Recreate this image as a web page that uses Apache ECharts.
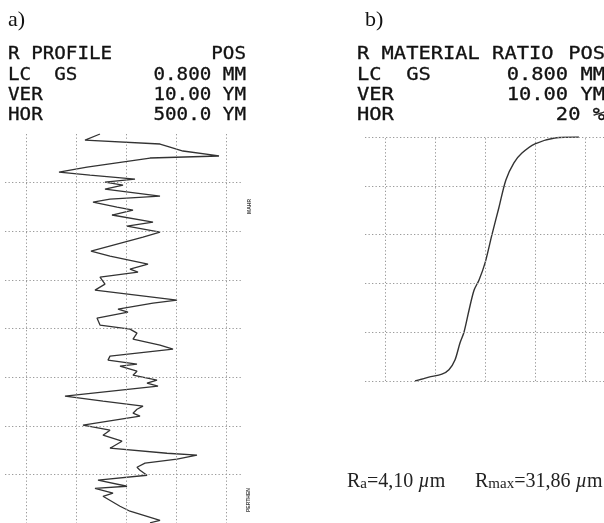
<!DOCTYPE html>
<html>
<head>
  <meta charset="utf-8">
</head>
<body style="margin: 0; background: #fff">
  <div id="container" style="width: 604px; height: 523px"></div>
  <script src="https://cdn.jsdelivr.net/npm/echarts@6.0.0/dist/echarts.min.js"></script>
  <script>
    // a) R profile: position along the trace (µm, downward) and profile height (µm)
    var profilePos = [0, 62, 103, 134, 175, 226, 247, 340, 391, 422, 463, 494, 525, 566, 638, 669, 700,
      751, 782, 833, 906, 947, 1008, 1060, 1204, 1255, 1338, 1389, 1420, 1471, 1544, 1605, 1708, 1739,
      1801, 1832, 1893, 1965, 2007, 2048, 2109, 2171, 2212, 2284, 2325, 2367, 2387, 2439, 2480, 2531,
      2562, 2593, 2696, 2747, 2799, 2830, 2871, 2902, 2994, 3046, 3097, 3159, 3231, 3283, 3303, 3344,
      3385, 3427, 3457, 3509, 3560, 3622, 3643, 3694, 3725, 3828, 3879, 3972, 3998];
    var profileHeight = [-5.2, -8.2, 6.8, 8.8, 11.4, 18.6, 4.8, -7.8, -13.4, -7.2, 1.8, -4.2, -0.6, -4.2, 6.8, -3.2, -6.6,
      -1.8, 1.4, -2.8, 5.4, 0.2, 6.8, 3.4, -7.0, -3.2, 4.4, 0.8, 2.4, -5.2, -4.2, -6.2, 10.2, 5.4,
      -1.6, 0.4, -5.8, -5.2, 0.8, 2.2, 1.4, 6.8, 9.4, -3.2, -3.6, 2.2, -1.2, 2.2, 1.4, 6.2,
      4.2, 6.4, -12.2, -4.6, 3.4, 2.2, 1.4, 2.8, -8.6, -3.2, -4.6, -0.8, -3.2, 8.2, 14.2, 10.2,
      3.8, 2.2, 2.8, 4.2, -5.6, 0.2, -6.2, -2.6, -4.6, -1.2, 0.8, 6.8, 4.8];

    // b) R material ratio curve: ratio (%) and level (µm)
    var ratioPct = [32.0, 34.8, 37.5, 42.7, 45.5, 47.9, 49.9, 51.5, 53.5, 55.5, 57.5, 59.9, 62.6,
      65.4, 68.2, 71.4, 74.6, 79.8, 87.7, 97.3];
    var ratioLevel = [0, 0.4, 0.8, 1.4, 2.3, 4.3, 7.8, 10.0, 14.5, 18.6, 20.7, 24.2, 29.9,
      35.5, 41.2, 44.7, 46.7, 48.6, 49.8, 50.0];

    // grid (chart paper) lines
    var profileGridX = [-20, -10, 0, 10, 20];
    var profileGridY = [500, 1000, 1500, 2000, 2500, 3000, 3500];
    var ratioGridX = [20, 40, 60, 80, 100];
    var ratioGridY = [0, 10, 20, 30, 40, 50];

    // header texts
    var headA = [['R PROFILE', 'POS'], ['LC  GS', '0.800 MM'], ['VER', '10.00 YM'], ['HOR', '500.0 YM']];
    var headB = [['R MATERIAL RATIO', 'POS'], ['LC  GS', '0.800 MM'], ['VER', '10.00 YM'], ['HOR', '20 %']];

    function zip(a, b) {
      return a.map(function (v, i) { return [v, b[i]]; });
    }

    var dotted = { color: '#9a9a9a', width: 1, type: [1.3, 2.2] };
    function gridMarks(xs, ys) {
      var d = [];
      xs.forEach(function (v) { d.push({ xAxis: v }); });
      ys.forEach(function (v) { d.push({ yAxis: v }); });
      return {
        silent: true, symbol: 'none', label: { show: false },
        lineStyle: dotted, emphasis: { disabled: true }, data: d
      };
    }

    var mono = "'DejaVu Sans Mono', monospace";
    var graphics = [];
    var rowY = [55, 76, 96, 116];
    function headText(x, y, text, align, sx) {
      return { type: 'text', x: x, y: y, scaleX: sx,
        style: { text: text, font: '17px ' + mono, fill: '#111', align: align, verticalAlign: 'middle',
          stroke: '#111', lineWidth: 0.3 } };
    }
    headA.forEach(function (r, i) {
      graphics.push(headText(8, rowY[i], r[0], 'left', 1.13));
      graphics.push(headText(246, rowY[i], r[1], 'right', 1.13));
    });
    headB.forEach(function (r, i) {
      graphics.push(headText(357, rowY[i], r[0], 'left', 1.2));
      graphics.push(headText(605, rowY[i], r[1], 'right', 1.2));
    });
    var serif = "'Liberation Serif', 'Times New Roman', serif";
    graphics.push({ type: 'text', x: 8, y: 20,
      style: { text: 'a)', font: '22px ' + serif, fill: '#111', verticalAlign: 'middle' } });
    graphics.push({ type: 'text', x: 365, y: 20,
      style: { text: 'b)', font: '22px ' + serif, fill: '#111', verticalAlign: 'middle' } });
    var richRa = {
      n: { fontFamily: serif, fontSize: 20, fill: '#222', verticalAlign: 'bottom' },
      s: { fontFamily: serif, fontSize: 15, fill: '#222', verticalAlign: 'bottom' },
      mu: { fontFamily: serif, fontSize: 20, fontStyle: 'italic', fill: '#222', verticalAlign: 'bottom' }
    };
    graphics.push({ type: 'text', x: 347, y: 482,
      style: { text: '{n|R}{s|a}{n|=4,10 }{mu|µ}{n|m}', rich: richRa, verticalAlign: 'middle' } });
    graphics.push({ type: 'text', x: 475, y: 482,
      style: { text: '{n|R}{s|max}{n|=31,86 }{mu|µ}{n|m}', rich: richRa, verticalAlign: 'middle' } });
    graphics.push({ type: 'text', x: 247, y: 214, rotation: Math.PI / 2,
      style: { text: 'MAHR', font: 'bold 5px sans-serif', fill: '#444' } });
    graphics.push({ type: 'text', x: 246, y: 512, rotation: Math.PI / 2,
      style: { text: 'PERTHEN', font: 'bold 5px sans-serif', fill: '#444' } });

    var chart = echarts.init(document.getElementById('container'), null, { renderer: 'canvas' });
    var option = {
      animation: false,
      backgroundColor: '#fff',
      grid: [
        { left: 5, top: 134, width: 238, height: 389 },
        { left: 365, top: 137, width: 239, height: 244 }
      ],
      xAxis: [
        { type: 'value', gridIndex: 0, min: -24.2, max: 23.4, show: false },
        { type: 'value', gridIndex: 1, min: 12.05, max: 107.3, show: false }
      ],
      yAxis: [
        { type: 'value', gridIndex: 0, min: 0, max: 4000, inverse: true, show: false },
        { type: 'value', gridIndex: 1, min: 0, max: 50, show: false }
      ],
      series: [
        {
          type: 'line', xAxisIndex: 0, yAxisIndex: 0, showSymbol: false,
          data: zip(profileHeight, profilePos),
          lineStyle: { color: '#333', width: 1.3 },
          markLine: gridMarks(profileGridX, profileGridY)
        },
        {
          type: 'line', xAxisIndex: 1, yAxisIndex: 1, showSymbol: false, smooth: 0.3,
          data: zip(ratioPct, ratioLevel),
          lineStyle: { color: '#333', width: 1.4 },
          markLine: gridMarks(ratioGridX, ratioGridY)
        }
      ],
      graphic: graphics
    };
    chart.setOption(option);
  </script>
</body>
</html>
